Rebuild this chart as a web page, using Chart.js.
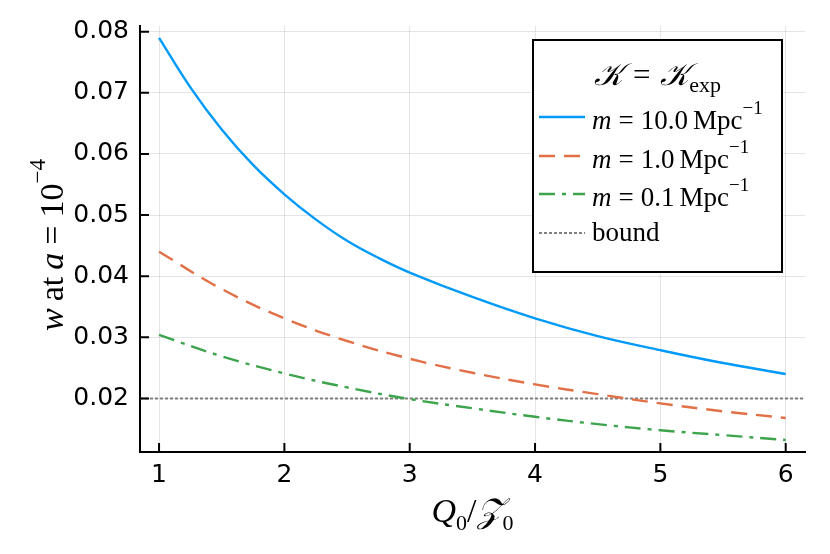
<!DOCTYPE html>
<html>
<head>
<meta charset="utf-8">
<script src="https://cdn.jsdelivr.net/npm/chart.js@4.4.1/dist/chart.umd.min.js"></script>
<style>
  body { margin: 0; background: #fff; }
  canvas { display: block; }
</style>
</head>
<body>
<canvas id="grafico" width="830" height="554"></canvas>
<script>
// values
const qFine = [1, 1.25, 1.5, 1.75, 2, 2.25, 2.5, 2.75, 3, 3.5, 4, 4.5, 5, 5.5, 6];
const wMass10 = [0.0790, 0.0709, 0.0640, 0.0582, 0.0534, 0.0493, 0.0458, 0.0430, 0.0406, 0.0366, 0.0331, 0.0302, 0.0279, 0.0258, 0.0240];
const qCoarse = [1, 1.5, 2, 2.5, 3, 3.5, 4, 4.5, 5, 5.5, 6];
const wMass1 = [0.0440, 0.0379, 0.0331, 0.0294, 0.0265, 0.0242, 0.0223, 0.0207, 0.0192, 0.0179, 0.0168];
const wMass01 = [0.0304, 0.0269, 0.0241, 0.0218, 0.0199, 0.0184, 0.0170, 0.0158, 0.0148, 0.0140, 0.0132];
const boundLevel = 0.02;
const xTicks = [1, 2, 3, 4, 5, 6];
const yTicks = [0.02, 0.03, 0.04, 0.05, 0.06, 0.07, 0.08];
const xRange = [0.848, 6.154];
const yRange = [0.01124, 0.08093];
const massLabels = ["10.0", "1.0", "0.1"];

const SERIF = '"Liberation Serif", serif';
const SANS = '"DejaVu Sans", sans-serif';

function pontos(xs, ys) {
    return xs.map(function (x, i) { return { x: x, y: ys[i] }; });
}

// draws a line of text made of several font pieces (italic, superscript...)
function textoMisto(ctx, partes, x, y, align) {
    let total = 0;
    partes.forEach(function (p) {
        if (p.gap) { total += p.gap; return; }
        ctx.font = p.f;
        p.w = ctx.measureText(p.t).width;
        total += p.w;
    });
    let cx = align === 'center' ? x - total / 2 : x;
    ctx.textAlign = 'left';
    ctx.textBaseline = 'alphabetic';
    ctx.fillStyle = '#000';
    partes.forEach(function (p) {
        if (p.gap) { cx += p.gap; return; }
        ctx.font = p.f;
        ctx.fillText(p.t, cx, y + (p.dy || 0));
        cx += p.w;
    });
}

const it = function (s) { return 'italic ' + s + 'px ' + SERIF; };
const rm = function (s) { return s + 'px ' + SERIF; };

const extras = {
    id: 'extras',
    afterDraw: function (chart) {
        const ctx = chart.ctx;
        const a = chart.chartArea;
        const sx = chart.scales.x, sy = chart.scales.y;
        ctx.save();

        // inward tick marks
        ctx.strokeStyle = '#000';
        ctx.lineWidth = 2;
        ctx.beginPath();
        xTicks.forEach(function (v) {
            const px = sx.getPixelForValue(v);
            ctx.moveTo(px, a.bottom); ctx.lineTo(px, a.bottom - 9);
        });
        yTicks.forEach(function (v) {
            const py = sy.getPixelForValue(v);
            ctx.moveTo(a.left, py); ctx.lineTo(a.left + 9, py);
        });
        ctx.stroke();

        // axis titles
        textoMisto(ctx, [
            { t: 'Q', f: it(34) },
            { t: '0', f: rm(22), dy: 8 },
            { t: '/', f: rm(34) },
            { t: '\u{1D4B5}', f: it(34) },
            { t: '0', f: rm(22), dy: 8 }
        ], (a.left + a.right) / 2, 522, 'center');

        ctx.save();
        ctx.translate(63, 245);
        ctx.rotate(-Math.PI / 2);
        textoMisto(ctx, [
            { t: 'w', f: it(34) }, { gap: 7 },
            { t: 'at', f: rm(34) }, { gap: 7 },
            { t: 'a', f: it(34) }, { gap: 8 },
            { t: '=', f: rm(34) }, { gap: 8 },
            { t: '10', f: rm(34) },
            { t: '\u22124', f: rm(23), dy: -18 }
        ], 0, 0, 'center');
        ctx.restore();

        // legend box
        const bx = 533, by = 40, bw = 249, bh = 232;
        ctx.fillStyle = '#fff';
        ctx.fillRect(bx, by, bw, bh);
        ctx.strokeStyle = '#000';
        ctx.lineWidth = 2;
        ctx.setLineDash([]);
        ctx.strokeRect(bx, by, bw, bh);

        textoMisto(ctx, [
            { t: '\u{1D4A6}', f: it(31) }, { gap: 10 },
            { t: '=', f: rm(31) }, { gap: 10 },
            { t: '\u{1D4A6}', f: it(31) },
            { t: 'exp', f: rm(22), dy: 7 }
        ], bx + bw / 2, 85, 'center');

        const linhas = [117, 156, 194, 233];
        chart.data.datasets.forEach(function (ds, i) {
            const ly = linhas[i];
            ctx.strokeStyle = ds.borderColor;
            ctx.lineWidth = ds.borderWidth;
            ctx.setLineDash(ds.borderDash || []);
            ctx.beginPath();
            ctx.moveTo(539, ly); ctx.lineTo(585, ly);
            ctx.stroke();
            ctx.setLineDash([]);
            if (i < massLabels.length) {
                textoMisto(ctx, [
                    { t: 'm', f: it(27) }, { gap: 7 },
                    { t: '=', f: rm(27) }, { gap: 7 },
                    { t: massLabels[i], f: rm(27) }, { gap: 5 },
                    { t: 'Mpc', f: rm(27) },
                    { t: '\u22121', f: rm(19), dy: -15 }
                ], 592, ly + 12, 'left');
            } else {
                textoMisto(ctx, [{ t: ds.label, f: rm(27) }], 592, ly + 8, 'left');
            }
        });
        ctx.restore();
    }
};

new Chart(document.getElementById("grafico"), {

    type: 'line',

    data: {
        datasets: [{
            label: "m = 10.0 Mpc^-1",
            data: pontos(qFine, wMass10),
            borderColor: "#009AFA",
            borderWidth: 2.4,
            tension: 0.4
        }, {
            label: "m = 1.0 Mpc^-1",
            data: pontos(qCoarse, wMass1),
            borderColor: "#E26F46",
            borderWidth: 2.4,
            borderDash: [16, 9],
            tension: 0.4
        }, {
            label: "m = 0.1 Mpc^-1",
            data: pontos(qCoarse, wMass01),
            borderColor: "#3DA44D",
            borderWidth: 2.4,
            borderDash: [16, 7, 4, 7],
            tension: 0.4
        }, {
            label: "bound",
            data: pontos(xRange, [boundLevel, boundLevel]),
            borderColor: "#808080",
            borderWidth: 2,
            borderDash: [3, 2]
        }]
    },

    options: {
        responsive: false,
        animation: false,
        elements: { point: { radius: 0 } },
        layout: { padding: { top: 26, right: 25, left: 0, bottom: 0 } },
        plugins: {
            legend: { display: false },
            tooltip: { enabled: false }
        },
        scales: {
            x: {
                type: 'linear',
                min: xRange[0],
                max: xRange[1],
                afterBuildTicks: function (s) { s.ticks = xTicks.map(function (v) { return { value: v }; }); },
                afterFit: function (s) { s.height = 102; },
                ticks: {
                    padding: 8,
                    color: '#000',
                    font: { family: SANS, size: 25 },
                    callback: function (v) { return String(v); }
                },
                grid: { color: 'rgba(0,0,0,0.1)', drawTicks: false },
                border: { color: '#000', width: 2 }
            },
            y: {
                min: yRange[0],
                max: yRange[1],
                afterBuildTicks: function (s) { s.ticks = yTicks.map(function (v) { return { value: v }; }); },
                afterFit: function (s) { s.width = 140; },
                ticks: {
                    padding: 11,
                    color: '#000',
                    font: { family: SANS, size: 25 },
                    callback: function (v) { return v.toFixed(2); }
                },
                grid: { color: 'rgba(0,0,0,0.1)', drawTicks: false },
                border: { color: '#000', width: 2 }
            }
        }
    },

    plugins: [extras]
});
</script>
</body>
</html>
